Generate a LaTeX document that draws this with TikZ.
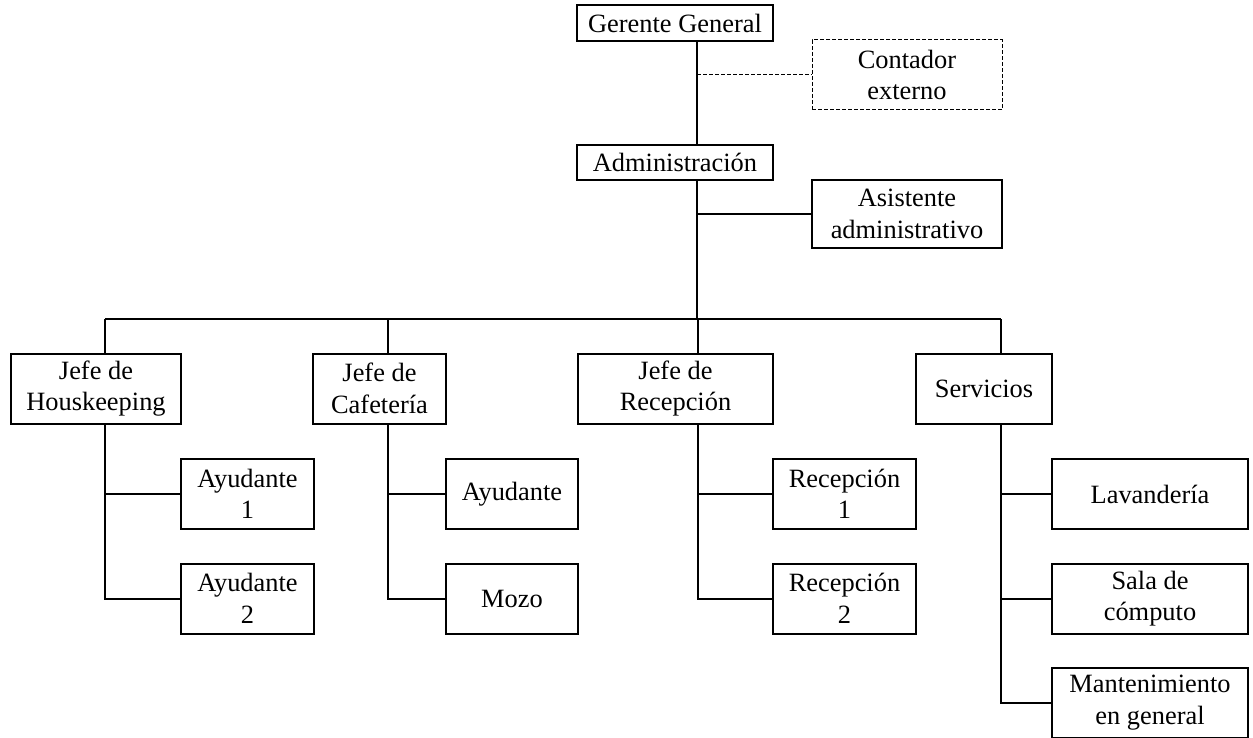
\documentclass[tikz,border=0pt]{standalone}
\usepackage{fontspec}
\setmainfont{Liberation Serif}
\usepackage{tikz}
\usetikzlibrary{calc}

\tikzset{
  caja/.style={draw, line width=1pt, align=center, inner sep=0pt,
    font=\fontsize{13.2}{15.8}\selectfont, minimum height=35pt},
  linea/.style={line width=1pt},
  externo/.style={line width=0.5pt, dash pattern=on 2pt off 1pt}
}

\begin{document}
\begin{tikzpicture}[x=0.5pt, y=-0.5pt]
        \useasboundingbox (0,0) rectangle (1253,738);
        % direccion
        \node[caja, minimum width=98pt, minimum height=18pt] (gerente) at (675,23) {Gerente General};
        \node[caja, externo, minimum width=95pt] (contador) at (907,75) {Contador\\externo};
        \node[caja, minimum width=98pt, minimum height=17.5pt] (admin) at (675,162.5) {Administración};
        \node[caja, minimum width=95pt, minimum height=34pt] (asistente) at (907,214) {Asistente\\administrativo};
        % jefaturas
        \node[caja, minimum width=85pt] (housekeeping) at (96,388.5) {Jefe de\\Houskeeping};
        \node[caja, minimum width=66.5pt] (cafeteria) at (379.5,388.5) {Jefe de\\Cafetería};
        \node[caja, minimum width=97.5pt] (recepcion) at (675.5,388.5) {Jefe de\\Recepción};
        \node[caja, minimum width=68pt] (servicios) at (984,388.5) {Servicios};
        % personal
        \node[caja, minimum width=66.5pt] (ayudante1) at (247.5,494) {Ayudante\\1};
        \node[caja, minimum width=66.5pt] (ayudante2) at (247.5,598.5) {Ayudante\\2};
        \node[caja, minimum width=66pt] (ayudante) at (512,494) {Ayudante};
        \node[caja, minimum width=66pt] (mozo) at (512,598.5) {Mozo};
        \node[caja, minimum width=71.5pt] (recepcion1) at (844.5,494) {Recepción\\1};
        \node[caja, minimum width=71.5pt] (recepcion2) at (844.5,598.5) {Recepción\\2};
        \node[caja, minimum width=98pt] (lavanderia) at (1150,494) {Lavandería};
        \node[caja, minimum width=98pt] (sala) at (1150,598.5) {Sala de\\cómputo};
        \node[caja, minimum width=98pt] (mantenimiento) at (1150,702.5) {Mantenimiento\\en general};

        \coordinate (eje) at (697,319);
        \coordinate (b1) at (105,319);
        \coordinate (b2) at (388,319);
        \coordinate (b3) at (698,319);
        \coordinate (b4) at (1001,319);

        \draw[linea] (gerente.south -| eje) -- (admin.north -| eje);
        \draw[externo] (contador.west -| eje) -- (contador.west);
        \draw[linea] (admin.south -| eje) -- (eje);
        \draw[linea] (asistente.west -| eje) -- (asistente.west);
        \draw[linea] (b1) -- (b4);
        \foreach \j/\b in {housekeeping/b1, cafeteria/b2, recepcion/b3, servicios/b4}
            \draw[linea] (\b) -- (\j.north -| \b);

        \draw[linea] (housekeeping.south -| b1) |- (ayudante2.west);
        \draw[linea] (ayudante1.west -| b1) -- (ayudante1.west);
        \draw[linea] (cafeteria.south -| b2) |- (mozo.west);
        \draw[linea] (ayudante.west -| b2) -- (ayudante.west);
        \draw[linea] (recepcion.south -| b3) |- (recepcion2.west);
        \draw[linea] (recepcion1.west -| b3) -- (recepcion1.west);
        \draw[linea] (servicios.south -| b4) |- (mantenimiento.west);
        \draw[linea] (lavanderia.west -| b4) -- (lavanderia.west);
        \draw[linea] (sala.west -| b4) -- (sala.west);
\end{tikzpicture}
\end{document}
